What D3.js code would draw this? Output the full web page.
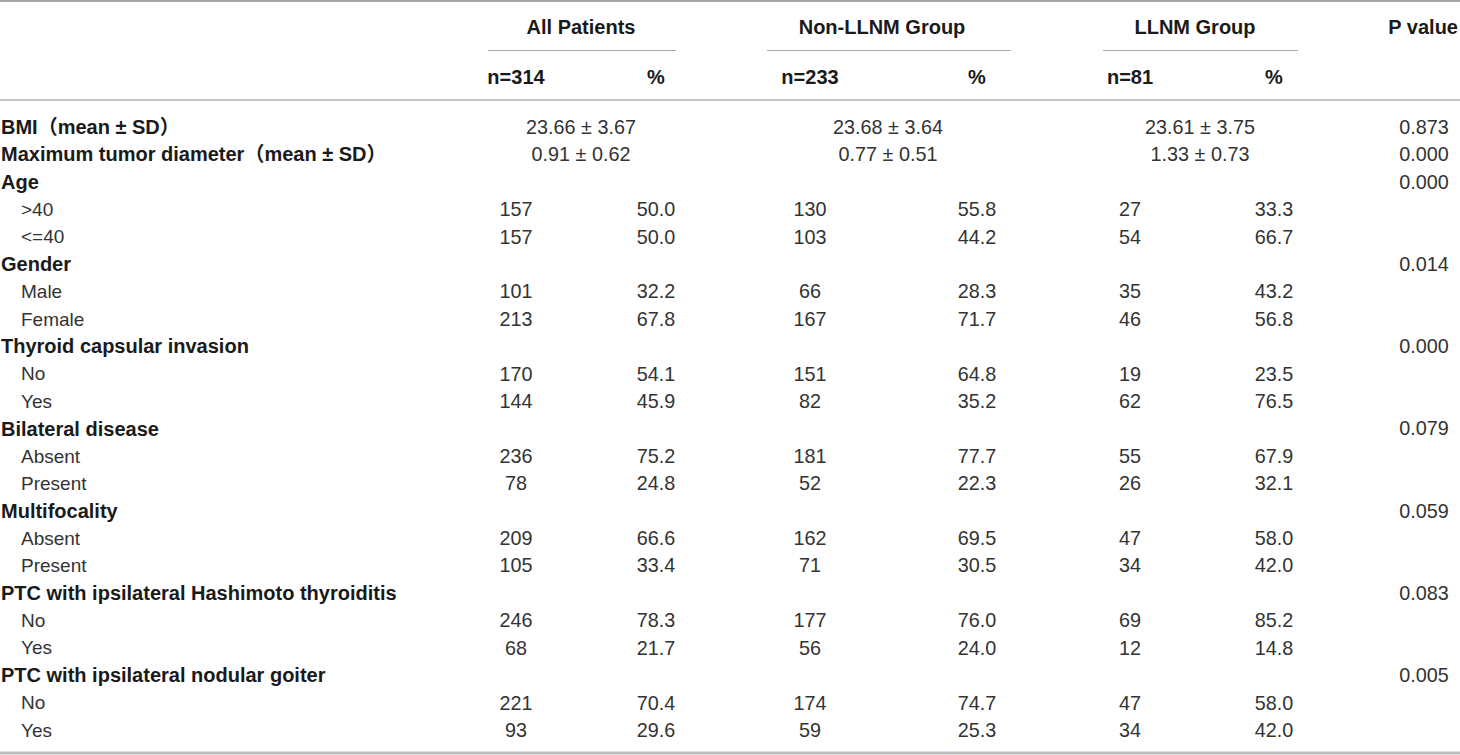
<!DOCTYPE html>
<html>
<head>
<meta charset="utf-8">
<script src="https://cdn.jsdelivr.net/npm/d3@7"></script>
<style>
  body { margin: 0; background: #fff; }
  svg { display: block; }
</style>
</head>
<body>
<main></main>
<script>
// Table data
const rowLabels = [
  'BMI（mean ± SD）', 'Maximum tumor diameter（mean ± SD）', 'Age', '>40', '<=40',
  'Gender', 'Male', 'Female', 'Thyroid capsular invasion', 'No', 'Yes',
  'Bilateral disease', 'Absent', 'Present', 'Multifocality', 'Absent', 'Present',
  'PTC with ipsilateral Hashimoto thyroiditis', 'No', 'Yes',
  'PTC with ipsilateral nodular goiter', 'No', 'Yes'
];
// true = bold variable row, false = indented category row
const isHeading = [
  true, true, true, false, false,
  true, false, false, true, false, false,
  true, false, false, true, false, false,
  true, false, false,
  true, false, false
];
const allMeanSd = ['23.66 ± 3.67', '0.91 ± 0.62'];
const nonMeanSd = ['23.68 ± 3.64', '0.77 ± 0.51'];
const llnmMeanSd = ['23.61 ± 3.75', '1.33 ± 0.73'];

const allN    = ['', '', '', '157', '157', '', '101', '213', '', '170', '144', '', '236', '78', '', '209', '105', '', '246', '68', '', '221', '93'];
const allPct  = ['', '', '', '50.0', '50.0', '', '32.2', '67.8', '', '54.1', '45.9', '', '75.2', '24.8', '', '66.6', '33.4', '', '78.3', '21.7', '', '70.4', '29.6'];
const nonN    = ['', '', '', '130', '103', '', '66', '167', '', '151', '82', '', '181', '52', '', '162', '71', '', '177', '56', '', '174', '59'];
const nonPct  = ['', '', '', '55.8', '44.2', '', '28.3', '71.7', '', '64.8', '35.2', '', '77.7', '22.3', '', '69.5', '30.5', '', '76.0', '24.0', '', '74.7', '25.3'];
const llnmN   = ['', '', '', '27', '54', '', '35', '46', '', '19', '62', '', '55', '26', '', '47', '34', '', '69', '12', '', '47', '34'];
const llnmPct = ['', '', '', '33.3', '66.7', '', '43.2', '56.8', '', '23.5', '76.5', '', '67.9', '32.1', '', '58.0', '42.0', '', '85.2', '14.8', '', '58.0', '42.0'];
const pValues = ['0.873', '0.000', '0.000', '', '', '0.014', '', '', '0.000', '', '', '0.079', '', '', '0.059', '', '', '0.083', '', '', '0.005', '', ''];

const groupNames = ['All Patients', 'Non-LLNM Group', 'LLNM Group'];
const subHeaders = ['n=314', '%', 'n=233', '%', 'n=81', '%'];

const width = 1460;
const height = 755;
const font = '"Liberation Sans", Arial, "Noto Sans CJK SC", sans-serif';
const boldSize = 20;
const numSize = 19.8;
const labelSize = 19;

const svg = d3.select('main')
  .append('svg')
  .attr('width', width)
  .attr('height', height)
  .style('font-family', font)

// column centres
const colKeys = ['allN', 'allPct', 'nonN', 'nonPct', 'llnmN', 'llnmPct', 'p'];
const colX = d3.scaleOrdinal()
  .domain(colKeys)
  .range([516, 656, 810, 977, 1130, 1274, 1424]);

// group header positions (centre of label, span of underline)
const groupX = d3.scaleOrdinal().domain(groupNames).range([581, 882, 1195]);
const groupSpan = d3.scaleOrdinal().domain(groupNames).range([[488, 676], [767, 1011], [1103, 1298]]);
const meanX = [581, 888, 1200];

const y = d3.scalePoint()
  .domain(d3.range(rowLabels.length))
  .range([127, 730]);

// Rules
const rules = [
  { x1: 0, x2: width, y: 1, w: 1.5, c: '#8a8a8a' },
  { x1: 0, x2: width, y: 100, w: 1.5, c: '#b0b0b0' },
  { x1: 0, x2: width, y: 753, w: 3, c: '#bdbdbd' }
];
svg.append('g')
  .selectAll('line')
  .data(rules)
  .enter()
  .append('line')
  .attr('x1', d => d.x1)
  .attr('x2', d => d.x2)
  .attr('y1', d => d.y)
  .attr('y2', d => d.y)
  .style('stroke', d => d.c)
  .style('stroke-width', d => d.w)

// Group headers
const header = svg.append('g').attr('class', 'header')

header.selectAll('text.group')
  .data(groupNames.concat(['P value']))
  .enter()
  .append('text')
  .attr('class', 'group')
  .attr('x', d => d === 'P value' ? width - 2 : groupX(d))
  .attr('y', 27)
  .attr('dy', '0.35em')
  .attr('text-anchor', d => d === 'P value' ? 'end' : 'middle')
  .style('font-size', boldSize + 'px')
  .style('font-weight', 700)
  .style('fill', '#1a1a1a')
  .text(d => d)

header.selectAll('line')
  .data(groupNames)
  .enter()
  .append('line')
  .attr('x1', d => groupSpan(d)[0])
  .attr('x2', d => groupSpan(d)[1])
  .attr('y1', 50.5)
  .attr('y2', 50.5)
  .style('stroke', '#a8a8a8')
  .style('stroke-width', 1.2)

header.selectAll('text.sub')
  .data(subHeaders)
  .enter()
  .append('text')
  .attr('class', 'sub')
  .attr('x', (d, i) => colX(colKeys[i]))
  .attr('y', 77)
  .attr('dy', '0.35em')
  .attr('text-anchor', 'middle')
  .style('font-size', boldSize + 'px')
  .style('font-weight', 700)
  .style('fill', '#1a1a1a')
  .text(d => d)

// Body rows
const rows = svg.append('g')
  .selectAll('g')
  .data(rowLabels.map((label, i) => ({
    i, label,
    heading: isHeading[i],
    cells: {
      allN: allN[i], allPct: allPct[i],
      nonN: nonN[i], nonPct: nonPct[i],
      llnmN: llnmN[i], llnmPct: llnmPct[i],
      p: pValues[i]
    }
  })))
  .enter()
  .append('g')
  .attr('transform', d => `translate(0, ${y(d.i)})`)

rows.append('text')
  .attr('x', d => d.heading ? 1 : 21)
  .attr('dy', '0.35em')
  .style('font-size', d => (d.heading ? boldSize : labelSize) + 'px')
  .style('font-weight', d => d.heading ? 700 : 400)
  .style('fill', d => d.heading ? '#1a1a1a' : '#333')
  .text(d => d.label)

rows.selectAll('text.cell')
  .data(d => colKeys.map(k => ({ k, v: d.cells[k] })).filter(c => c.v !== ''))
  .enter()
  .append('text')
  .attr('class', 'cell')
  .attr('x', d => colX(d.k))
  .attr('dy', '0.35em')
  .attr('text-anchor', 'middle')
  .style('font-size', numSize + 'px')
  .style('fill', '#333')
  .text(d => d.v)

// mean ± SD rows span both sub-columns
const meanRows = [allMeanSd, nonMeanSd, llnmMeanSd];
rows.filter(d => d.i < allMeanSd.length)
  .selectAll('text.mean')
  .data(d => meanRows.map((arr, g) => ({ g, v: arr[d.i] })))
  .enter()
  .append('text')
  .attr('class', 'mean')
  .attr('x', d => meanX[d.g])
  .attr('dy', '0.35em')
  .attr('text-anchor', 'middle')
  .style('font-size', numSize + 'px')
  .style('fill', '#333')
  .text(d => d.v)
</script>
</body>
</html>
